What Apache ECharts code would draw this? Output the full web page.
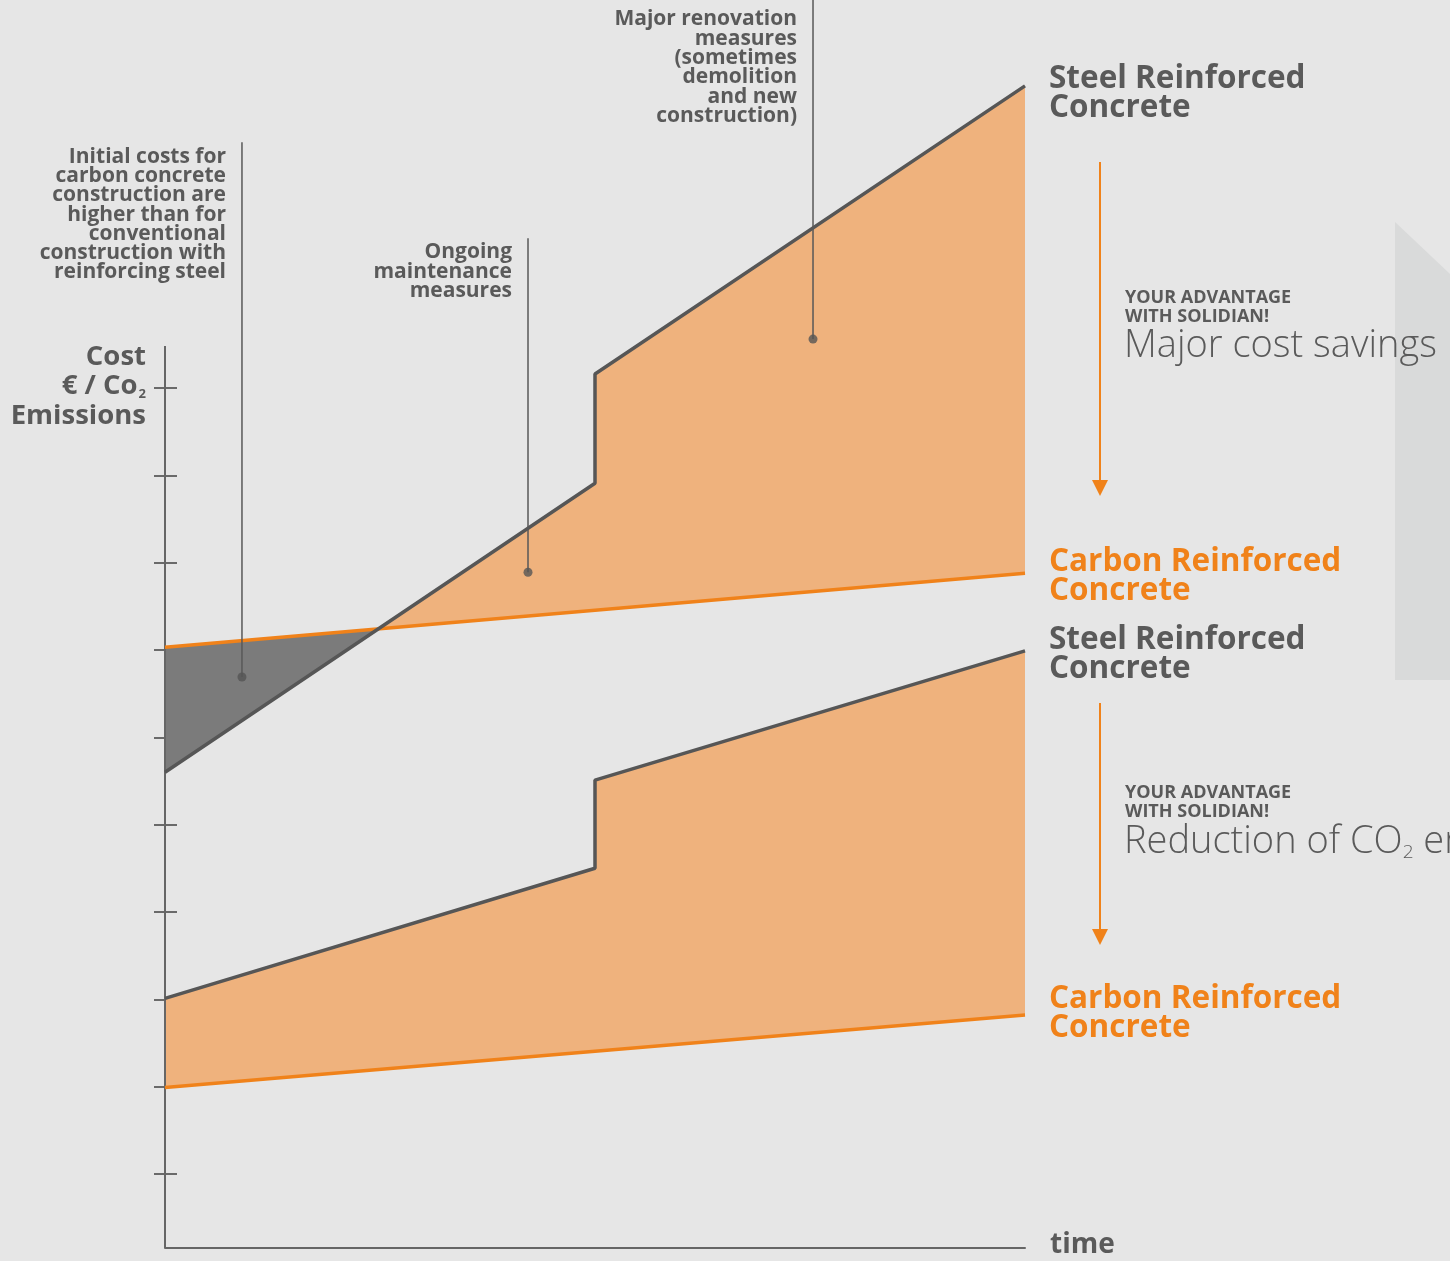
<!DOCTYPE html>
<html>
<head>
<meta charset="utf-8">
<script src="https://cdn.jsdelivr.net/npm/echarts@6/dist/echarts.min.js"></script>
<style>
html,body{margin:0;padding:0;background:#e6e6e6;}
#chart{width:1450px;height:1261px;}
</style>
</head>
<body>
<div id="chart"></div>
<script>
// ---- data (time on x: 0..10, cost / CO2 on y in tick units) ----
const timeSteps = [0, 5, 5, 10];
const upperSteelValues = [5.60, 8.91, 10.16, 13.46];
const lowerSteelValues = [3.01, 4.50, 5.51, 6.99];
const carbonTime = [0, 10];
const upperCarbonValues = [7.03, 7.88];
const lowerCarbonValues = [1.99, 2.82];
const yTickValues = [1, 2, 3, 4, 5, 6, 7, 8, 9, 10];
const Y_MIN = 0.152, Y_MAX = 14.443, Y_AXIS_TOP = 10.48;
// annotation anchors [time, value] and leader top values
const annotationX = [0.895, 4.221, 7.535];
const annotationY = [6.69, 7.89, 10.56];
const annotationTop = [12.815, 11.716, 14.443];

const zip = (xs, ys) => xs.map((x, i) => [x, ys[i]]);
const upperSteel = zip(timeSteps, upperSteelValues);
const lowerSteel = zip(timeSteps, lowerSteelValues);
const upperCarbon = zip(carbonTime, upperCarbonValues);
const lowerCarbon = zip(carbonTime, lowerCarbonValues);

function carbonAt(line, x) {
  const [x0, y0] = line[0], [x1, y1] = line[1];
  return y0 + (y1 - y0) * (x - x0) / (x1 - x0);
}
// intersection of first steel segment with upper carbon line
const s0 = upperSteel[0], s1 = upperSteel[1];
const ss = (s1[1] - s0[1]) / (s1[0] - s0[0]);
const cs = (upperCarbon[1][1] - upperCarbon[0][1]) / (upperCarbon[1][0] - upperCarbon[0][0]);
const xi = (upperCarbon[0][1] - s0[1]) / (ss - cs);
const yi = carbonAt(upperCarbon, xi);

const ORANGE_FILL = '#efb27d';
const GRAY_FILL = '#7b7b7b';
const polygons = [
  { color: GRAY_FILL, pts: [[0, upperCarbon[0][1]], [xi, yi], [0, s0[1]]] },
  { color: ORANGE_FILL, pts: [[xi, yi]].concat(upperSteel.slice(1)).concat([[10, upperCarbon[1][1]]]) },
  { color: ORANGE_FILL, pts: lowerSteel.concat([[10, lowerCarbon[1][1]], [0, lowerCarbon[0][1]]]) }
];

const STEEL = '#565656';
const ORANGE = '#f0821a';
const TEXT_GRAY = '#5a5a5a';
const FONT = '"Open Sans", "Noto Sans", sans-serif';

const chart = echarts.init(document.getElementById('chart'));

function lineSeries(data, color, width, z) {
  return { type: 'line', data: data, symbol: 'none', silent: true, clip: false, z: z,
    lineStyle: { color: color, width: width }, animation: false };
}

const series = [
  { type: 'custom', z: 1, clip: false, silent: true, animation: false,
    data: polygons.map((p, i) => [i, 1]),
    renderItem: function (params, api) {
      const poly = polygons[params.dataIndex];
      return { type: 'polygon', shape: { points: poly.pts.map(p => api.coord(p)) },
        style: { fill: poly.color } };
    } },
  lineSeries([[0, Y_MIN], [0, Y_AXIS_TOP]], '#666', 2, 3),
  lineSeries(upperCarbon, ORANGE, 3.5, 4),
  lineSeries(lowerCarbon, ORANGE, 3.5, 4),
  lineSeries(upperSteel, STEEL, 3.5, 5),
  lineSeries(lowerSteel, STEEL, 3.5, 5)
];
annotationX.forEach((x, i) => {
  series.push(lineSeries([[x, annotationY[i]], [x, annotationTop[i]]], '#585858', 1.5, 6));
});
series.push({ type: 'scatter', data: zip(annotationX, annotationY), symbolSize: 9, z: 7,
  itemStyle: { color: '#555' }, silent: true, animation: false, clip: false });

const tickStyle = { color: '#6a6a6a', width: 2 };
function yAxis(inside, len) {
  return { type: 'value', min: Y_MIN, max: Y_MAX, position: 'left',
    axisLine: { show: false },
    axisTick: { show: true, inside: inside, length: len, customValues: yTickValues, lineStyle: tickStyle },
    axisLabel: { show: false }, splitLine: { show: false } };
}

function txt(x, y, text, opts) {
  return { type: 'text', x: x, y: y, z: 100, silent: true,
    style: Object.assign({ text: text, font: 'bold 21px ' + FONT, fill: TEXT_GRAY,
      textAlign: 'right', textVerticalAlign: 'top' }, opts) };
}

const graphics = [
  // gray panel on right
  { type: 'polygon', z: 0, silent: true,
    shape: { points: [[1395, 222], [1450, 274], [1450, 680], [1395, 680]] },
    style: { fill: '#d9dada' } },
  // annotations
  txt(226, 147.5, 'Initial costs for\ncarbon concrete\nconstruction are\nhigher than for\nconventional\nconstruction with\nreinforcing steel', { lineHeight: 19.2 }),
  txt(512, 242.5, 'Ongoing\nmaintenance\nmeasures', { lineHeight: 19.6 }),
  txt(797, 9.5, 'Major renovation\nmeasures\n(sometimes\ndemolition\nand new\nconstruction)', { lineHeight: 19.4 }),
  // axis title
  { type: 'text', x: 146, y: 342, z: 100, silent: true,
    style: { text: 'Cost\n€ / Co{sub|2}\nEmissions', font: 'bold 27.5px ' + FONT, fill: TEXT_GRAY,
      textAlign: 'right', textVerticalAlign: 'top', lineHeight: 29.5,
      rich: { sub: { font: 'bold 13px ' + FONT, fill: TEXT_GRAY, verticalAlign: 'bottom', padding: [10, 0, 0, 1] } } } },
  txt(1050, 1231, 'time', { font: 'bold 28px ' + FONT, textAlign: 'left' }),
  // series labels
  txt(1049, 65, 'Steel Reinforced\nConcrete', { font: 'bold 31.5px ' + FONT, textAlign: 'left', lineHeight: 29 }),
  txt(1049, 548, 'Carbon Reinforced\nConcrete', { font: 'bold 31.5px ' + FONT, textAlign: 'left', lineHeight: 29, fill: ORANGE }),
  txt(1049, 626, 'Steel Reinforced\nConcrete', { font: 'bold 31.5px ' + FONT, textAlign: 'left', lineHeight: 29 }),
  txt(1049, 985, 'Carbon Reinforced\nConcrete', { font: 'bold 31.5px ' + FONT, textAlign: 'left', lineHeight: 29, fill: ORANGE }),
  // advantages
  txt(1125, 289, 'YOUR ADVANTAGE\nWITH SOLIDIAN!', { font: 'bold 18px ' + FONT, textAlign: 'left', lineHeight: 18.5 }),
  txt(1124, 327, 'Major cost savings', { font: '300 38px ' + FONT, textAlign: 'left' }),
  txt(1125, 784, 'YOUR ADVANTAGE\nWITH SOLIDIAN!', { font: 'bold 18px ' + FONT, textAlign: 'left', lineHeight: 18.5 }),
  { type: 'text', x: 1124, y: 822, z: 100, silent: true,
    style: { text: 'Reduction of CO{sub|2} emissions', font: '300 38px ' + FONT, fill: TEXT_GRAY,
      textAlign: 'left', textVerticalAlign: 'top',
      rich: { sub: { font: '300 19px ' + FONT, fill: TEXT_GRAY, verticalAlign: 'bottom', padding: [21, 0, 0, 0] } } } },
  // arrows
  { type: 'line', z: 50, silent: true, shape: { x1: 1100, y1: 162, x2: 1100, y2: 482 }, style: { stroke: ORANGE, lineWidth: 2 } },
  { type: 'polygon', z: 50, silent: true, shape: { points: [[1092, 480], [1108, 480], [1100, 496]] }, style: { fill: ORANGE } },
  { type: 'line', z: 50, silent: true, shape: { x1: 1100, y1: 703, x2: 1100, y2: 930 }, style: { stroke: ORANGE, lineWidth: 2 } },
  { type: 'polygon', z: 50, silent: true, shape: { points: [[1092, 929], [1108, 929], [1100, 945]] }, style: { fill: ORANGE } }
];

chart.setOption({
  backgroundColor: '#e6e6e6',
  animation: false,
  grid: { left: 165, right: 425, top: 0, bottom: 13, containLabel: false },
  xAxis: { type: 'value', min: 0, max: 10,
    axisLine: { show: true, lineStyle: { color: '#666', width: 2 } },
    axisTick: { show: false }, axisLabel: { show: false }, splitLine: { show: false } },
  yAxis: [yAxis(false, 11), yAxis(true, 12)],
  series: series,
  graphic: graphics
});
</script>
</body>
</html>
